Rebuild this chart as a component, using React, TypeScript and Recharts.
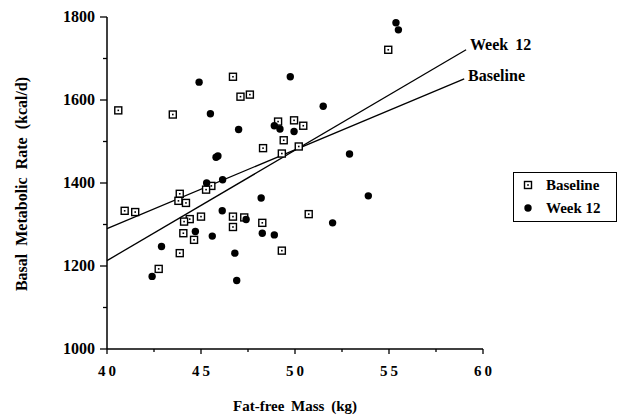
import React from 'react';
import { ScatterChart, Scatter, XAxis, YAxis, ReferenceLine, ReferenceDot } from 'recharts';

const baselineFfm = [40.6, 43.5, 46.7, 47.1, 47.6, 49.1, 49.95, 50.44, 49.4, 48.3, 49.3, 50.2, 54.96, 45.55, 45.27, 43.87, 43.8, 44.2, 40.94, 41.5, 45.0, 46.7, 47.3, 44.4, 44.1, 46.7, 48.26, 44.06, 44.63, 43.87, 49.3, 42.75, 50.73];
const baselineBmr = [1575, 1565, 1656, 1608, 1613, 1548, 1551, 1538, 1503, 1484, 1471, 1488, 1721, 1393, 1384, 1374, 1357, 1352, 1333, 1330, 1319, 1319, 1317, 1313, 1307, 1294, 1304, 1279, 1263, 1231, 1237, 1193, 1325];

const week12Ffm = [44.9, 49.75, 45.5, 47.0, 48.9, 49.2, 49.95, 45.8, 45.9, 46.15, 45.3, 55.37, 55.5, 51.5, 52.9, 48.2, 46.13, 47.4, 48.26, 48.9, 44.7, 45.6, 42.9, 46.8, 42.4, 46.9, 53.9, 52.0];
const week12Bmr = [1643, 1656, 1567, 1529, 1538, 1530, 1524, 1462, 1465, 1408, 1400, 1786, 1769, 1585, 1470, 1364, 1333, 1312, 1279, 1275, 1283, 1272, 1247, 1231, 1175, 1165, 1369, 1304];

// regression line end points
const week12LineX = [40, 59.1];
const week12LineY = [1213, 1721];
const baselineLineX = [40, 59];
const baselineLineY = [1290, 1651];

const xTicks = [40, 42.5, 45, 47.5, 50, 52.5, 55, 57.5, 60];
const yTicks = [1000, 1100, 1200, 1300, 1400, 1500, 1600, 1700, 1800];

const baselineData = baselineFfm.map((x, i) => ({ x, y: baselineBmr[i] }));
const week12Data = week12Ffm.map((x, i) => ({ x, y: week12Bmr[i] }));

const FONT = 'Liberation Serif, serif';
const txt = { fontFamily: FONT, fontWeight: 'bold' as const };

const SquareMark = (props: any) => {
  const { cx, cy } = props;
  return (
    <g>
      <rect x={cx - 3.5} y={cy - 3.5} width={7} height={7} fill="#fff" stroke="#000" strokeWidth={1.4} />
      <rect x={cx - 0.8} y={cy - 0.8} width={1.6} height={1.6} fill="#000" />
    </g>
  );
};

const DotMark = (props: any) => {
  const { cx, cy } = props;
  return <circle cx={cx} cy={cy} r={3.7} fill="#000" />;
};

const YTick = (props: any) => {
  const { x, y, payload } = props;
  const major = payload.value % 200 === 0;
  return (
    <g>
      <line x1={x} x2={x - (major ? 7 : 4)} y1={y} y2={y} stroke="#000" strokeWidth={1.3} />
      {major && (
        <text x={x - 12} y={y + 5} textAnchor="end" style={{ ...txt, fontSize: 16 }} fill="#000">
          {payload.value}
        </text>
      )}
    </g>
  );
};

const XTick = (props: any) => {
  const { x, y, payload } = props;
  const major = payload.value % 5 === 0;
  return (
    <g>
      <line x1={x} x2={x} y1={y} y2={y + (major ? 5 : 3)} stroke="#000" strokeWidth={1.3} />
      {major && (
        <text x={x + 1.5} y={y + 27} textAnchor="middle" style={{ ...txt, fontSize: 15, letterSpacing: 3 }} fill="#000">
          {payload.value}
        </text>
      )}
    </g>
  );
};

const lineLabel = (text: string, dy: number) => (props: any) => {
  const { viewBox } = props;
  return (
    <text x={viewBox.x + 4} y={viewBox.y + dy} style={{ ...txt, fontSize: 16, wordSpacing: 3 }} fill="#000">
      {text}
    </text>
  );
};

const ChartLegend = () => (
  <div style={{ position: 'absolute', left: 513, top: 172, width: 104, height: 50, border: '1px solid #000', background: '#fff', boxSizing: 'border-box' }}>
    <svg width={102} height={48} style={{ display: 'block' }}>
      <SquareMark cx={14} cy={12} />
      <text x={32} y={17} style={{ ...txt, fontSize: 15 }}>Baseline</text>
      <DotMark cx={14} cy={35} />
      <text x={32} y={40} style={{ ...txt, fontSize: 15 }}>Week 12</text>
    </svg>
  </div>
);

export default function App() {
  return (
    <div style={{ position: 'absolute', left: 0, top: 0, width: 618, height: 417, background: '#fff' }}>
      <ScatterChart width={618} height={417} margin={{ top: 17, right: 135, bottom: 0, left: 0 }}>
        <XAxis
          type="number"
          dataKey="x"
          domain={[40, 60]}
          ticks={xTicks}
          interval={0}
          height={68}
          tickSize={0}
          tickMargin={0}
          tickLine={false}
          tick={<XTick />}
          axisLine={{ stroke: '#000', strokeWidth: 1.5 }}
          allowDataOverflow
        />
        <YAxis
          type="number"
          dataKey="y"
          domain={[1000, 1800]}
          ticks={yTicks}
          interval={0}
          width={107}
          tickSize={0}
          tickMargin={0}
          tickLine={false}
          tick={<YTick />}
          axisLine={{ stroke: '#000', strokeWidth: 1.5 }}
          allowDataOverflow
        />
        <ReferenceLine
          segment={[{ x: week12LineX[0], y: week12LineY[0] }, { x: week12LineX[1], y: week12LineY[1] }]}
          stroke="#000"
          strokeWidth={1.3}
          ifOverflow="visible"
        />
        <ReferenceLine
          segment={[{ x: baselineLineX[0], y: baselineLineY[0] }, { x: baselineLineX[1], y: baselineLineY[1] }]}
          stroke="#000"
          strokeWidth={1.3}
          ifOverflow="visible"
        />
        <ReferenceDot x={week12LineX[1]} y={week12LineY[1]} r={0.1} fill="none" stroke="none" ifOverflow="visible" label={lineLabel('Week 12', 0)} />
        <ReferenceDot x={baselineLineX[1]} y={baselineLineY[1]} r={0.1} fill="none" stroke="none" ifOverflow="visible" label={lineLabel('Baseline', 2)} />
        <Scatter name="Baseline" data={baselineData} shape={<SquareMark />} isAnimationActive={false} />
        <Scatter name="Week 12" data={week12Data} shape={<DotMark />} isAnimationActive={false} />
      </ScatterChart>
      <ChartLegend />
      <div style={{ position: 'absolute', left: 0, top: 398, width: 590, textAlign: 'center', ...txt, fontSize: 15, wordSpacing: 3 }}>
        Fat-free Mass (kg)
      </div>
      <svg style={{ position: 'absolute', left: 0, top: 0 }} width={40} height={417}>
        <text transform="translate(27,184) rotate(-90)" textAnchor="middle" style={{ ...txt, fontSize: 16, wordSpacing: 4 }} fill="#000">
          Basal Metabolic Rate (kcal/d)
        </text>
      </svg>
    </div>
  );
}
